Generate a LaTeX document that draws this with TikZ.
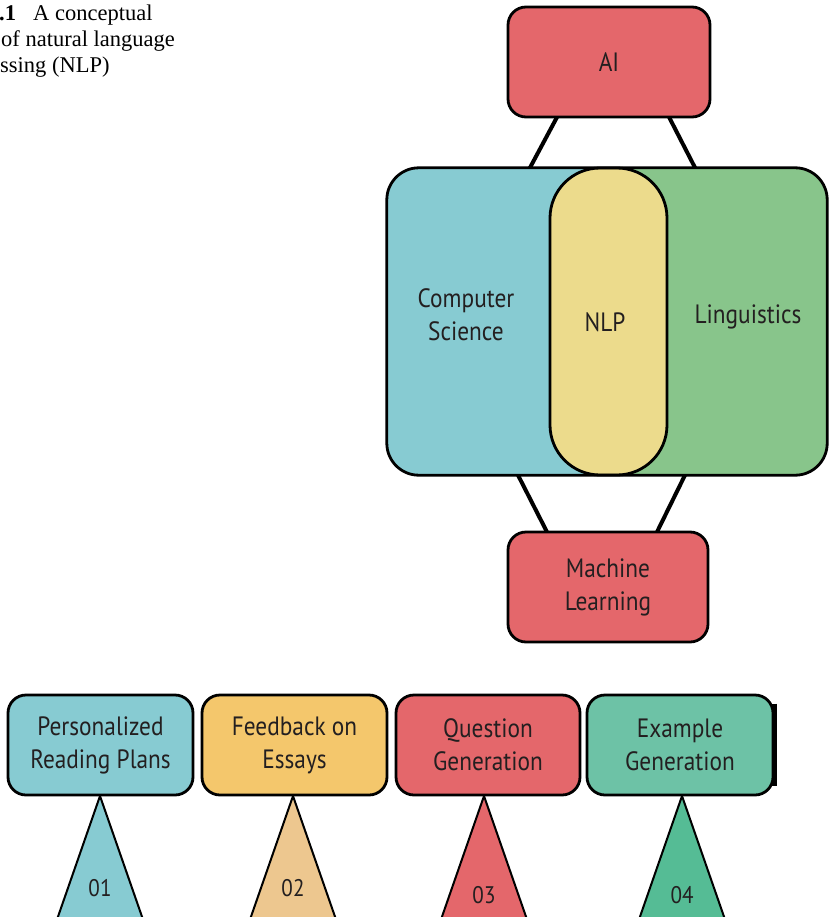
\documentclass[tikz,border=0pt]{standalone}
\usepackage{fontspec}
\setmainfont{Liberation Serif}
\newfontfamily\diag[FakeStretch=0.88]{PT Sans}
\usetikzlibrary{calc}
\definecolor{cred}{HTML}{E4676B}
\definecolor{ccyan}{HTML}{87CBD2}
\definecolor{cgreen}{HTML}{88C58B}
\definecolor{cyellow}{HTML}{ECDB8C}
\definecolor{corange}{HTML}{F4C76C}
\definecolor{cteal}{HTML}{6DC2A6}
\definecolor{ctan}{HTML}{EDC78F}
\definecolor{cdteal}{HTML}{55BC95}
\definecolor{txt}{HTML}{231F20}
\begin{document}
\begin{tikzpicture}[x=1pt,y=-1pt,
  box/.style={draw=black, line width=2.8pt, rounded corners=18pt, text=txt,
    font=\diag\fontsize{26.5}{33}\selectfont, align=center, inner sep=0pt},
  lbl/.style={text=txt, font=\diag\fontsize{26.5}{33}\selectfont, align=center, inner sep=0pt},
  num/.style={text=txt, font=\diag\fontsize{24}{28}\selectfont, inner sep=0pt},
  conn/.style={draw=black, line width=4pt},
  tri/.style={draw=black, line width=2pt, line join=miter},
  captext/.style={anchor=base west, inner sep=0pt, text=black, font=\fontsize{22.5}{26}\selectfont}
]
\useasboundingbox (0,0) rectangle (828,917);

% caption
\node[captext] (c1a) at (-1,21) {\textbf{.1}};
\node[captext] (c1b) at (33,21) {A conceptual};
\node[captext] (c2) at (1,47) {of natural language};
\node[captext] (c3) at (0,73) {ssing (NLP)};

% placement nodes (no drawing)
\node[minimum width=202pt, minimum height=110pt, inner sep=0pt] (ai) at (609,62) {};
\node[minimum width=440pt, minimum height=307pt, inner sep=0pt] (big) at (607,321.5) {};
\node[minimum width=200pt, minimum height=110pt, inner sep=0pt] (ml) at (608,587) {};

% connectors
\draw[conn] ($(ai.south west)!0.243!(ai.south east)$) -- ($(big.north west)!0.325!(big.north east)$);
\draw[conn] ($(ai.south west)!0.797!(ai.south east)$) -- ($(big.north west)!0.70!(big.north east)$);
\draw[conn] ($(big.south west)!0.298!(big.south east)$) -- ($(ml.north west)!0.195!(ml.north east)$);
\draw[conn] ($(big.south west)!0.677!(big.south east)$) -- ($(ml.north west)!0.745!(ml.north east)$);

% AI box
\node[box, fill=cred, minimum width=202pt, minimum height=110pt] (aibox) at (ai) {AI};
% ML box
\node[box, fill=cred, minimum width=200pt, minimum height=110pt] (mlbox) at (ml) {Machine\\Learning};

% big box
\begin{scope}
  \clip[rounded corners=32pt] (big.south west) rectangle (big.north east);
  \fill[ccyan] (big.south west) rectangle ($(big.north west)!0.5!(big.north east)$);
  \fill[cgreen] ($(big.south west)!0.5!(big.south east)$) rectangle (big.north east);
\end{scope}
\node[draw=black, line width=2.8pt, fill=cyellow, rounded corners=50pt,
      minimum width=117pt, minimum height=307pt, inner sep=0pt] (nlpbox) at (608.5,321.5) {};
\draw[line width=2.8pt, rounded corners=32pt] (big.south west) rectangle (big.north east);
\node[lbl] (cs) at (466,315) {Computer\\Science};
\node[lbl] (nlp) at (605,322) {NLP};
\node[lbl] (ling) at (748,317) {Linguistics};

% triangles
\filldraw[tri, fill=ccyan]  (100,796) -- ++(-47,135) -- ++(94,0) -- cycle;
\filldraw[tri, fill=ctan]   (293,796) -- ++(-47,135) -- ++(94,0) -- cycle;
\filldraw[tri, fill=cred]   (484,796) -- ++(-47,135) -- ++(94,0) -- cycle;
\filldraw[tri, fill=cdteal] (682,796) -- ++(-47,135) -- ++(94,0) -- cycle;

% bottom boxes
\node[box, fill=ccyan, minimum width=185pt, minimum height=100pt] (b1) at (100.5,745) {Personalized\\Reading Plans};
\node[box, fill=corange, minimum width=185pt, minimum height=100pt] (b2) at (294.5,745) {Feedback on\\Essays};
\node[box, fill=cred, minimum width=184pt, minimum height=100pt] (b3) at (488,745) {Question\\Generation};
\node[box, fill=cteal, minimum width=186pt, minimum height=100pt] (b4) at (680,745) {Example\\Generation};
\draw[line width=4.5pt] ([yshift=-10pt]b4.north east) -- ([yshift=10pt]b4.south east);

\node[num] (n1) at (100,888) {01};
\node[num] (n2) at (293,888) {02};
\node[num] (n3) at (484,895) {03};
\node[num] (n4) at (682,895) {04};
\end{tikzpicture}
\end{document}
